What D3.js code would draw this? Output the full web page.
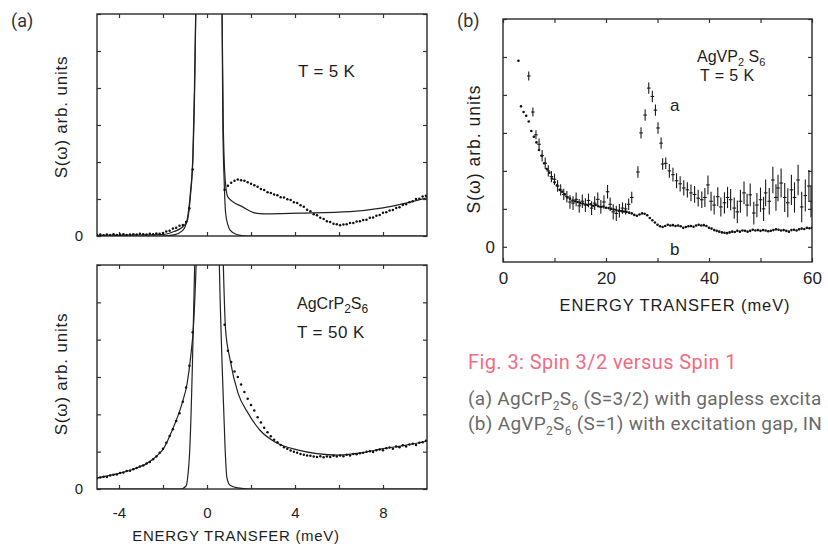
<!DOCTYPE html>
<html>
<head>
<meta charset="utf-8">
<script src="https://cdn.jsdelivr.net/npm/d3@7"></script>
<style>
  body { margin: 0; background: #fff; overflow: hidden; }
  svg { display: block; }
  .plot text { font-family: "Liberation Sans", Arial, sans-serif; fill: #1e1e1e; }
  .tick line { stroke: #333; stroke-width: 1.2; }
  .cap { font-family: Roboto, "Open Sans", sans-serif; }
</style>
</head>
<body>
<svg id="chart" width="828" height="547"></svg>
<script>
// ---- tick values ----
const aEnergyTicks = [-4, -2, 0, 2, 4, 6, 8];
const aEnergyLabels = [-4, 0, 4, 8];
const sTicks = [0, 1, 2, 3, 4, 5, 6];
const bEnergyTicks = [0, 10, 20, 30, 40, 50, 60];
const bEnergyLabels = [0, 20, 40, 60];

// ---- panel (a), T = 5 K ----
const res5K = [[-5, 0], [-2, 0], [-1.5, 0.03], [-1.1, 0.15], [-0.9, 0.45], [-0.75, 1.2], [-0.64, 2.2], [-0.57, 4], [-0.5, 6.5],
  [0.1, 40], [0.68, 6.5], [0.72, 3], [0.78, 1.5], [0.85, 0.6], [0.95, 0.3], [1.05, 0.16], [1.35, 0.04], [1.8, 0], [10, 0]];
const fit5K = [[-5, 0.02], [-2, 0.04], [-1.5, 0.12], [-1.1, 0.25], [-0.9, 0.4], [-0.75, 1.1], [-0.64, 2.1], [-0.56, 4], [-0.5, 6.5],
  [0.1, 40], [0.68, 6.5], [0.74, 3], [0.83, 1.5], [0.95, 1.05], [1.64, 0.78], [2.2, 0.62], [2.6, 0.6], [4.2, 0.62], [6.5, 0.66], [8, 0.76], [10, 1.03]];
const dotStep = 0.15;
const left5KStart = -5.0;
const left5K = [0.03, 0.04, 0.02, 0.04, 0.03, 0.05, 0.03, 0.04, 0.05, 0.03,
  0.04, 0.05, 0.04, 0.06, 0.05, 0.04, 0.06, 0.05, 0.07, 0.06,
  0.08, 0.12, 0.14, 0.2, 0.22, 0.28, 0.3, 0.38, 0.75, 1.8];
const right5KStart = 0.8;
const right5K = [1.25, 1.36, 1.44, 1.49, 1.53, 1.51, 1.49, 1.45, 1.41, 1.37,
  1.33, 1.27, 1.24, 1.18, 1.16, 1.12, 1.10, 1.05, 1.04, 0.99,
  0.97, 0.91, 0.89, 0.83, 0.79, 0.71, 0.67, 0.59, 0.56, 0.49,
  0.46, 0.40, 0.38, 0.33, 0.32, 0.29, 0.31, 0.32, 0.35, 0.35,
  0.39, 0.40, 0.43, 0.44, 0.49, 0.50, 0.55, 0.57, 0.63, 0.64,
  0.69, 0.70, 0.76, 0.78, 0.84, 0.86, 0.91, 0.94, 1.00, 1.01,
  1.07, 1.09];

// ---- panel (a), T = 50 K ----
const res50K = [[-5, 0], [-1.2, 0], [-0.95, 0.08], [-0.88, 0.3], [-0.78, 1.1], [-0.66, 3.4], [-0.58, 5.5], [-0.54, 6.5],
  [0, 40], [0.54, 6.5], [0.6, 5], [0.68, 3.46], [0.82, 1.13], [0.9, 0.32], [1.05, 0.1], [1.4, 0.03], [1.95, 0], [10, 0]];
const fit50K = [[-5, 0.3], [-4, 0.42], [-3.36, 0.53], [-2.75, 0.68], [-2.25, 0.9], [-2, 1.06], [-1.55, 1.62], [-1.14, 2.28],
  [-0.9, 2.84], [-0.75, 3.5], [-0.6, 4.5], [-0.47, 6.5], [0.1, 40], [0.72, 6.5], [0.77, 5.4], [0.84, 4.3], [1.05, 3.46],
  [1.41, 2.57], [1.86, 2.04], [2.4, 1.58], [3.18, 1.23], [4.1, 1.05], [5, 0.95], [6, 0.91], [7, 0.97], [8, 1.08], [9, 1.17], [10, 1.28]];
const left50KStart = -5.0;
const left50K = [0.29, 0.31, 0.33, 0.32, 0.36, 0.38, 0.39, 0.43, 0.44, 0.48,
  0.49, 0.53, 0.56, 0.6, 0.63, 0.68, 0.72, 0.8, 0.87, 0.97,
  1.08, 1.24, 1.42, 1.6, 1.82, 2.03, 2.34, 2.72, 3.3, 4.2];
const right50KStart = 0.8;
const right50K = [4.4, 3.7, 3.4, 3.15, 3.0, 2.8, 2.6, 2.42, 2.25, 2.1,
  1.92, 1.78, 1.64, 1.52, 1.41, 1.32, 1.25, 1.18, 1.12, 1.08,
  1.03, 1.0, 0.97, 0.94, 0.92, 0.9, 0.89, 0.87, 0.86, 0.88,
  0.85, 0.87, 0.86, 0.89, 0.87, 0.9, 0.88, 0.92, 0.9, 0.94,
  0.93, 0.96, 0.97, 1.0, 1.01, 0.99, 1.04, 1.06, 1.04, 1.09,
  1.11, 1.08, 1.14, 1.12, 1.17, 1.14, 1.19, 1.21, 1.18, 1.24,
  1.25, 1.29];

// ---- panel (b), AgVP2S6 ----
const bStart = 3.0, bStep = 0.5;
const seriesB = [4.9, 3.7, 3.55, 3.45, 3.3, 3.05, 2.9, 2.75, 2.55, 2.4,
  2.2, 2.05, 1.95, 1.8, 1.7, 1.62, 1.5, 1.45, 1.38, 1.3,
  1.27, 1.22, 1.2, 1.18, 1.15, 1.14, 1.12, 1.1, 1.12, 1.08,
  1.1, 1.07, 1.05, 1.06, 1.03, 1.02, 1.0, 0.98, 0.97, 0.95,
  0.94, 0.93, 0.92, 0.9, 0.88, 0.84, 0.82, 0.85, 0.88, 0.87,
  0.83, 0.76, 0.7, 0.64, 0.58, 0.54, 0.52, 0.55, 0.58, 0.56,
  0.57, 0.55, 0.56, 0.54, 0.5, 0.52, 0.54, 0.55, 0.53, 0.56,
  0.58, 0.56, 0.57, 0.55, 0.5, 0.48, 0.44, 0.42, 0.4, 0.38,
  0.37, 0.36, 0.38, 0.4, 0.39, 0.42, 0.4, 0.43, 0.42, 0.4,
  0.42, 0.45, 0.43, 0.44, 0.42, 0.44, 0.43, 0.41, 0.42, 0.44,
  0.46, 0.45, 0.43, 0.44, 0.42, 0.4, 0.44, 0.45, 0.43, 0.46,
  0.48, 0.47, 0.5, 0.49, 0.5];
// [energy, S, error]
const seriesA = [[5.0, 4.5, 0.12], [5.8, 3.55, 0.12], [6.4, 2.95, 0.12], [7.0, 2.7, 0.15], [7.6, 2.4, 0.15], [8.2, 2.2, 0.15],
  [8.8, 2.0, 0.15], [9.4, 1.85, 0.15], [10.0, 1.78, 0.15], [10.6, 1.6, 0.15], [11.2, 1.5, 0.15], [11.8, 1.38, 0.15],
  [12.4, 1.32, 0.15], [13.0, 1.18, 0.18], [13.6, 1.15, 0.18], [14.2, 1.25, 0.18], [14.8, 1.08, 0.18], [15.4, 1.2, 0.18],
  [16.0, 1.1, 0.18], [16.6, 1.22, 0.18], [17.2, 1.02, 0.18], [17.8, 1.15, 0.18], [18.4, 1.25, 0.18], [19.0, 1.05, 0.18],
  [19.6, 1.18, 0.18], [20.3, 1.45, 0.18], [20.8, 1.12, 0.18], [21.4, 0.92, 0.2], [22.0, 0.88, 0.2], [22.6, 0.95, 0.18],
  [23.2, 1.02, 0.15], [23.8, 1.0, 0.15], [24.4, 1.12, 0.15], [25.0, 1.3, 0.15], [26.2, 1.97, 0.15], [26.8, 3.0, 0.15],
  [27.6, 3.47, 0.15], [28.3, 4.18, 0.15], [29.0, 3.96, 0.15], [29.6, 3.6, 0.15], [30.1, 3.13, 0.15], [30.7, 2.73, 0.15],
  [31.0, 2.18, 0.15], [31.6, 2.2, 0.15], [32.3, 2.0, 0.18], [33.0, 1.9, 0.18], [33.7, 1.74, 0.2], [34.4, 1.66, 0.2],
  [35.1, 1.55, 0.2], [35.8, 1.5, 0.2], [36.5, 1.42, 0.22], [37.2, 1.38, 0.22], [37.9, 1.28, 0.22], [38.6, 1.24, 0.22],
  [39.2, 1.3, 0.25], [39.8, 1.63, 0.25], [40.4, 1.2, 0.25], [41.0, 1.1, 0.25], [41.7, 1.32, 0.25], [42.3, 1.05, 0.25],
  [43.0, 1.16, 0.28], [43.6, 1.3, 0.28], [44.2, 1.24, 0.28], [44.9, 1.02, 0.28], [45.5, 0.92, 0.3], [46.1, 1.2, 0.3],
  [46.8, 1.42, 0.3], [47.4, 1.1, 0.3], [48.0, 1.37, 0.3], [48.7, 0.89, 0.3], [49.3, 1.1, 0.32], [50.0, 1.24, 0.32],
  [50.6, 1.0, 0.32], [51.0, 1.42, 0.35], [51.7, 1.2, 0.35], [52.4, 1.76, 0.35], [53.0, 1.3, 0.35], [53.4, 1.55, 0.35],
  [54.0, 1.68, 0.38], [54.7, 1.3, 0.38], [55.3, 1.16, 0.38], [56.0, 1.5, 0.4], [56.6, 1.3, 0.4], [57.3, 1.76, 0.4],
  [58.0, 1.05, 0.4], [58.7, 1.35, 0.42], [59.4, 1.6, 0.42], [59.8, 1.2, 0.42]];

// ---- scales ----
const xA = d3.scaleLinear().domain([-5, 10]).range([97, 427]);
const yTop = d3.scaleLinear().domain([0, 6]).range([236, 14]);
const yBot = d3.scaleLinear().domain([0, 6]).range([489, 265]);
const xB = d3.scaleLinear().domain([0, 60]).range([503, 812]);
const yB = d3.scaleLinear().domain([-0.4, 6]).range([262, 19]);

const svg = d3.select("#chart");
const plot = svg.append("g").attr("class", "plot");
const defs = svg.append("defs");

function grid(start, step, ys) {
  return ys.map((v, i) => [start + i * step, v]);
}

// box with inward ticks on all four sides
function frame(g, x, y, xt, yt, id) {
  const [x0, x1] = x.range();
  const [yb, yt0] = y.range();
  defs.append("clipPath").attr("id", id).append("rect")
    .attr("x", x0).attr("y", yt0).attr("width", x1 - x0).attr("height", yb - yt0);

  g.append("g").attr("transform", `translate(0,${yb})`)
    .call(d3.axisBottom(x).tickValues(xt).tickSize(-4).tickFormat(""));
  g.append("g").attr("transform", `translate(0,${yt0})`)
    .call(d3.axisTop(x).tickValues(xt).tickSize(-4).tickFormat(""));
  g.append("g").attr("transform", `translate(${x0},0)`)
    .call(d3.axisLeft(y).tickValues(yt).tickSize(-4).tickFormat(""));
  g.append("g").attr("transform", `translate(${x1},0)`)
    .call(d3.axisRight(y).tickValues(yt).tickSize(-4).tickFormat(""));
  g.selectAll(".domain").remove();

  g.append("rect")
    .attr("x", x0).attr("y", yt0).attr("width", x1 - x0).attr("height", yb - yt0)
    .attr("fill", "none").attr("stroke", "#2a2a2a").attr("stroke-width", 1.4);
}

function xLabels(g, x, y, vals, pad, size) {
  const ax = g.append("g").attr("transform", `translate(0,${y.range()[0]})`)
    .call(d3.axisBottom(x).tickValues(vals).tickSize(0).tickPadding(pad).tickFormat(d => String(d)));
  ax.select(".domain").remove();
  ax.selectAll("text").attr("font-size", size).attr("font-family", null);
}

function zeroLabel(g, x, y, pad, size) {
  const ax = g.append("g").attr("transform", `translate(${x.range()[0]},0)`)
    .call(d3.axisLeft(y).tickValues([0]).tickSize(0).tickPadding(pad).tickFormat(d => String(d)));
  ax.select(".domain").remove();
  ax.selectAll("text").attr("font-size", size).attr("font-family", null);
}

function yTitle(g, cx, cy, size, spacing) {
  g.append("text")
    .attr("transform", `translate(${cx},${cy}) rotate(-90)`)
    .attr("text-anchor", "middle")
    .attr("font-size", size)
    .attr("letter-spacing", spacing)
    .text("S(ω) arb. units");
}

function xTitle(g, cx, y, size, spacing) {
  g.append("text").attr("x", cx).attr("y", y).attr("text-anchor", "middle")
    .attr("font-size", size).attr("letter-spacing", spacing)
    .text("ENERGY TRANSFER (meV)");
}

function curve(g, x, y, pts, clip) {
  const line = d3.line().x(d => x(d[0])).y(d => y(d[1])).curve(d3.curveMonotoneX);
  g.append("path").attr("clip-path", `url(#${clip})`)
    .attr("d", line(pts))
    .attr("fill", "none").attr("stroke", "#222").attr("stroke-width", 1.2);
}

function dots(g, x, y, pts, clip, r) {
  g.append("g").attr("clip-path", `url(#${clip})`)
    .selectAll("circle").data(pts).join("circle")
    .attr("cx", d => x(d[0])).attr("cy", d => y(d[1]))
    .attr("r", r).attr("fill", "#111");
}

function chem(g, x, y, size, sub, parts) {
  const t = g.append("text").attr("x", x).attr("y", y).attr("font-size", size);
  parts.forEach(p => {
    const s = t.append("tspan").text(p[0]);
    if (p[1]) s.attr("font-size", sub).attr("dy", 4);
    else if (p[2]) s.attr("dy", -4);
  });
  return t;
}

// ---- panel (a) top ----
const gTop = plot.append("g");
frame(gTop, xA, yTop, aEnergyTicks, sTicks, "clipTop");
curve(gTop, xA, yTop, res5K, "clipTop");
curve(gTop, xA, yTop, fit5K, "clipTop");
dots(gTop, xA, yTop, grid(left5KStart, dotStep, left5K).concat(grid(right5KStart, dotStep, right5K)), "clipTop", 1.25);
zeroLabel(gTop, xA, yTop, 14, 15);
yTitle(gTop, 67, 117, 17, 0.8);
gTop.append("text").attr("x", 298).attr("y", 77).attr("font-size", 17).attr("letter-spacing", 0.3).text("T = 5 K");

// ---- panel (a) bottom ----
const gBot = plot.append("g");
frame(gBot, xA, yBot, aEnergyTicks, sTicks, "clipBot");
curve(gBot, xA, yBot, res50K, "clipBot");
curve(gBot, xA, yBot, fit50K, "clipBot");
dots(gBot, xA, yBot, grid(left50KStart, dotStep, left50K).concat(grid(right50KStart, dotStep, right50K)), "clipBot", 1.25);
zeroLabel(gBot, xA, yBot, 14, 15);
xLabels(gBot, xA, yBot, aEnergyLabels, 18, 15);
yTitle(gBot, 67, 374, 17, 0.8);
chem(gBot, 297, 309, 16, 12, [["AgCrP"], ["2", true], ["S", false, true], ["6", true]]);
gBot.append("text").attr("x", 297).attr("y", 338).attr("font-size", 17).attr("letter-spacing", 0.4).text("T = 50 K");
xTitle(gBot, 236, 541, 15, 0.7);

// ---- panel (b) ----
const gB = plot.append("g");
frame(gB, xB, yB, bEnergyTicks, sTicks, "clipB");
dots(gB, xB, yB, grid(bStart, bStep, seriesB), "clipB", 1.3);
const errs = gB.append("g").attr("clip-path", "url(#clipB)")
  .selectAll("g").data(seriesA).join("g")
  .attr("stroke", "#1a1a1a").attr("stroke-width", 1.1);
errs.append("line")
  .attr("x1", d => xB(d[0])).attr("x2", d => xB(d[0]))
  .attr("y1", d => yB(d[1] - d[2])).attr("y2", d => yB(d[1] + d[2]));
errs.append("line")
  .attr("x1", d => xB(d[0]) - 1.8).attr("x2", d => xB(d[0]) + 1.8)
  .attr("y1", d => yB(d[1])).attr("y2", d => yB(d[1]));
zeroLabel(gB, xB, yB, 8, 17);
xLabels(gB, xB, yB, bEnergyLabels, 10, 17);
yTitle(gB, 480, 149, 17.5, 1.0);
chem(gB, 697, 62, 16, 11, [["AgVP"], ["2", true], [" S", false, true], ["6", true]]);
gB.append("text").attr("x", 700).attr("y", 81).attr("font-size", 16).attr("letter-spacing", 0.4).text("T = 5 K");
gB.append("text").attr("x", 670).attr("y", 111).attr("font-size", 17).text("a");
gB.append("text").attr("x", 670).attr("y", 255).attr("font-size", 17).text("b");
xTitle(gB, 675, 311, 16.5, 0.9);

// ---- panel letters and caption ----
svg.append("text").attr("class", "cap").attr("x", 11).attr("y", 27).attr("font-size", 18).attr("fill", "#333").text("(a)");
svg.append("text").attr("class", "cap").attr("x", 457).attr("y", 27).attr("font-size", 18).attr("fill", "#333").text("(b)");

svg.append("text").attr("class", "cap").attr("x", 468).attr("y", 369).attr("font-size", 20)
  .attr("letter-spacing", 0.4).attr("fill", "#f26b83")
  .text("Fig. 3: Spin 3/2 versus Spin 1");

// the caption runs past the page edge in the source, so only the visible part is kept
function capLine(y, parts) {
  const t = svg.append("text").attr("class", "cap").attr("x", 468).attr("y", y)
    .attr("font-size", 19).attr("letter-spacing", 0.3).attr("fill", "#6a6a6a");
  parts.forEach(p => {
    const s = t.append("tspan").text(p[0]);
    if (p[1]) s.attr("font-size", 12).attr("dy", 5);
    else if (p[2]) s.attr("dy", -5);
  });
}
capLine(405, [["(a) AgCrP"], ["2", true], ["S", false, true], ["6", true], [" (S=3/2) with gapless excita", false, true]]);
capLine(430, [["(b) AgVP"], ["2", true], ["S", false, true], ["6", true], [" (S=1) with excitation gap, IN", false, true]]);
</script>
</body>
</html>
